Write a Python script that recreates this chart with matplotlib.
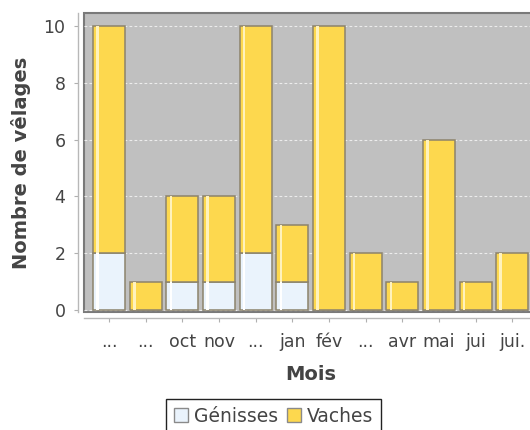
import numpy as np
import matplotlib
matplotlib.use("Agg")
import matplotlib.pyplot as plt
from matplotlib.patches import Patch

# data
mois = ["...", "...", "oct", "nov", "...", "jan", "fév", "...", "avr", "mai", "jui", "jui."]
genisses = [2, 0, 1, 1, 2, 1, 0, 0, 0, 0, 0, 0]
vaches = [8, 1, 3, 3, 8, 2, 10, 2, 1, 6, 1, 2]

C_GEN = "#eaf3fc"
C_VAC = "#fdd84e"
C_EDGE = "#8c836c"

plt.rcParams['font.family'] = ['DejaVu Sans']

fig = plt.figure(figsize=(5.3, 4.3), dpi=100)
ax = fig.add_axes([84/530, 118/430, 454/530, 299/430])

x = np.arange(len(mois))
w = 0.873
gen = np.array(genisses)
vac = np.array(vaches)

ax.set_facecolor("#c0c0c0")
ax.patch.set_edgecolor("#7a7a7a")
ax.patch.set_linewidth(1.5)

ax.bar(x, gen, w, color=C_GEN, edgecolor=C_EDGE, linewidth=1.1, zorder=3)
ax.bar(x, vac, w, bottom=gen, color=C_VAC, edgecolor=C_EDGE, linewidth=1.1, zorder=3)
# light highlight stripe (gradient look)
ax.bar(x - w/2 + 0.09, gen, 0.07, align='edge', color="#ffffff", linewidth=0, zorder=4)
ax.bar(x - w/2 + 0.09, vac, 0.07, bottom=gen, align='edge', color="#fff2bd", linewidth=0, zorder=4)

ax.set_xlim(-0.682, 11.705)
ax.set_ylim(-0.07, 10.46)
ax.set_yticks([0, 2, 4, 6, 8, 10])
ax.set_xticks(x)
ax.set_xticklabels(mois)

ax.yaxis.grid(True, color="#ececec", linestyle=(0, (2.5, 2)), linewidth=0.8, zorder=1)
ax.set_axisbelow(True)

for s in ["top", "right"]:
    ax.spines[s].set_visible(False)
for s in ["left", "bottom"]:
    ax.spines[s].set_position(("outward", 4.3))
    ax.spines[s].set_color("#b8b8b8")
    ax.spines[s].set_linewidth(1.0)

ax.tick_params(axis="both", colors="#b0b0b0", labelcolor="#444444", labelsize=12.5, length=3)
ax.tick_params(axis="y", pad=6)
ax.tick_params(axis="x", pad=8)

ax.set_xlabel("Mois", fontsize=14, fontweight="bold", color="#444444", labelpad=10)
ax.set_ylabel("Nombre de vêlages", fontsize=14, fontweight="bold", color="#444444", labelpad=9)

handles = [Patch(facecolor=C_GEN, edgecolor="#8a8a8a"), Patch(facecolor=C_VAC, edgecolor="#8a8a8a")]
leg = fig.legend(handles, ["Génisses", "Vaches"], loc="upper center",
                 bbox_to_anchor=(273.5/530, 1 - 399/430), ncol=2, fontsize=13.5,
                 frameon=True, fancybox=False, edgecolor="#222222", framealpha=1,
                 handlelength=0.75, handleheight=0.75, handletextpad=0.3,
                 columnspacing=0.5, borderpad=0.4, borderaxespad=0)
leg.get_frame().set_linewidth(1.0)
for t in leg.get_texts():
    t.set_color("#444444")

fig.savefig("out.png", dpi=100)
